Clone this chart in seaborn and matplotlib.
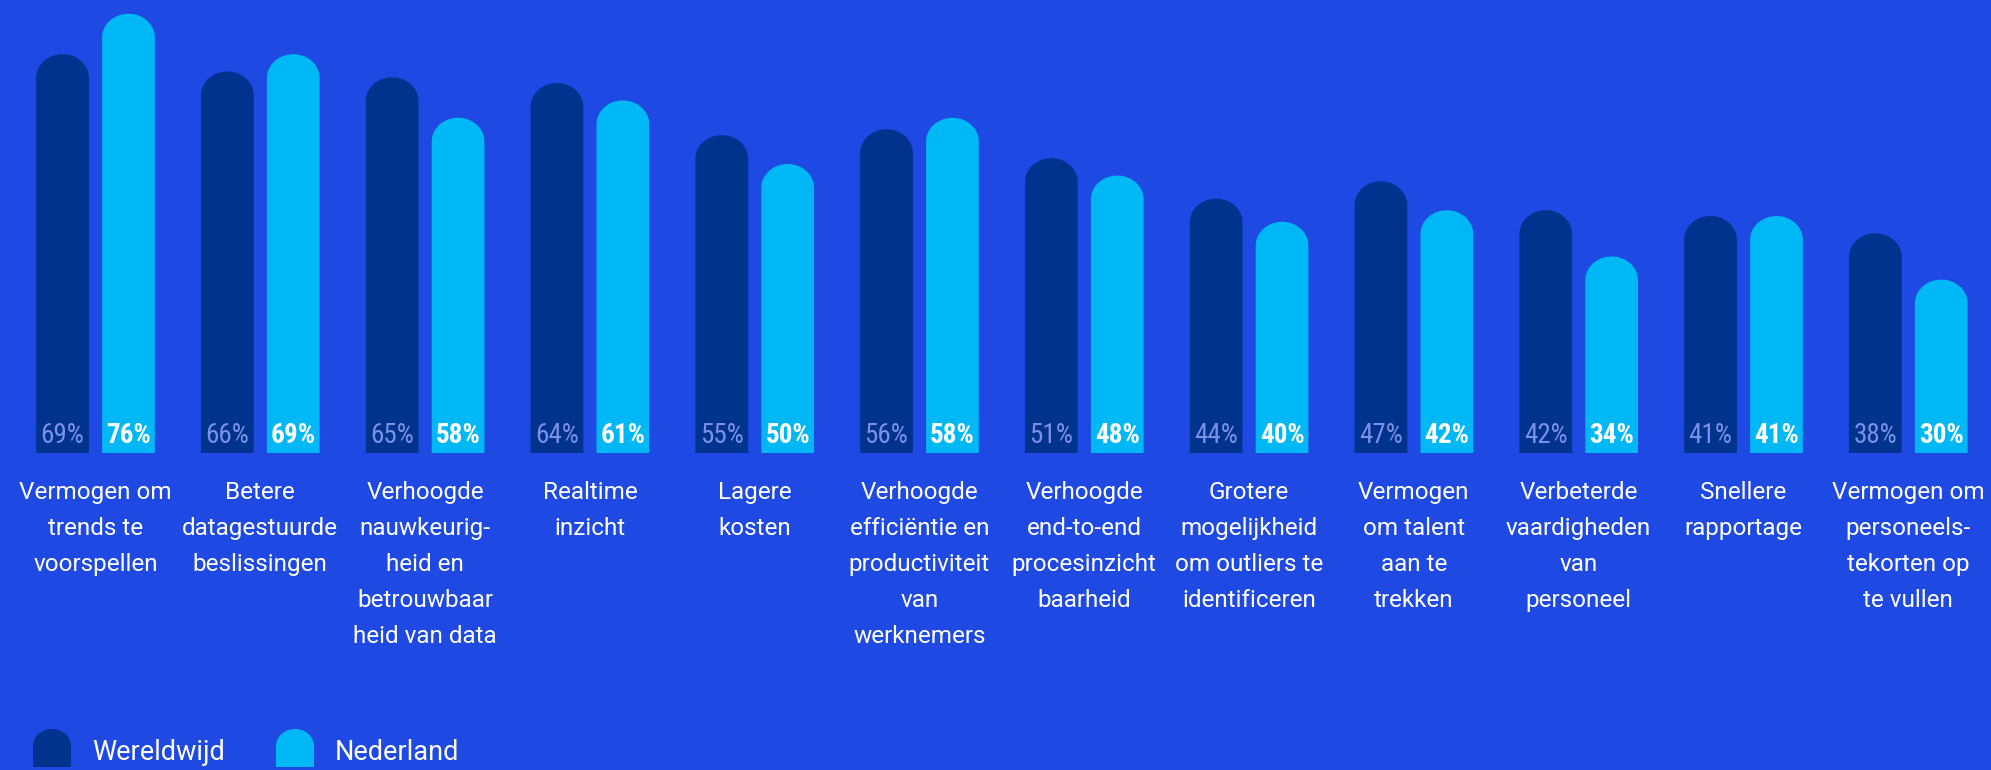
import numpy as np
import pandas as pd
import seaborn as sns
import matplotlib.pyplot as plt
from matplotlib import font_manager
from matplotlib.path import Path
from matplotlib.patches import PathPatch
from matplotlib.transforms import Affine2D

# Data
categories = [
    "Vermogen om\ntrends te\nvoorspellen",
    "Betere\ndatagestuurde\nbeslissingen",
    "Verhoogde\nnauwkeurig-\nheid en\nbetrouwbaar\nheid van data",
    "Realtime\ninzicht",
    "Lagere\nkosten",
    "Verhoogde\nefficiëntie en\nproductiviteit\nvan\nwerknemers",
    "Verhoogde\nend-to-end\nprocesinzicht\nbaarheid",
    "Grotere\nmogelijkheid\nom outliers te\nidentificeren",
    "Vermogen\nom talent\naan te\ntrekken",
    "Verbeterde\nvaardigheden\nvan\npersoneel",
    "Snellere\nrapportage",
    "Vermogen om\npersoneels-\ntekorten op\nte vullen",
]
wereldwijd = [69, 66, 65, 64, 55, 56, 51, 44, 47, 42, 41, 38]
nederland = [76, 69, 58, 61, 50, 58, 48, 40, 42, 34, 41, 30]
series = ["Wereldwijd", "Nederland"]

BG = "#1E49E2"
DARK = "#00338D"
LIGHT = "#00B8F5"
DARK_TXT = "#7B90E6"

W, H = 1991, 770

names = {f.name for f in font_manager.fontManager.ttflist}


def pick(*fams):
    for f in fams:
        if f in names:
            return f
    return "DejaVu Sans"


label_font = pick("Roboto", "Liberation Sans")
pct_font = pick("Roboto Condensed", "Liberation Sans Narrow", "DejaVu Sans")
legend_font = pick("Roboto", "Liberation Sans")

sns.set_theme(style="white")
plt.rcParams["font.family"] = [label_font, "DejaVu Sans"]

df = pd.DataFrame({
    "cat": categories * 2,
    "reeks": [series[0]] * len(categories) + [series[1]] * len(categories),
    "pct": wereldwijd + nederland,
})

fig = plt.figure(figsize=(W / 100, H / 100), dpi=100, facecolor=BG)
ax = fig.add_axes([0, 0, 1, 1])
ax.set_facecolor(BG)

sns.barplot(data=df, x="cat", y="pct", hue="reeks", palette=[DARK, LIGHT],
            width=0.8, gap=0.2, saturation=1, legend=False, errorbar=None, ax=ax)

# layout in pixels: first group centre, group step, baseline, px per %
x0, step, base, ppy = 95.5, 164.8, 453, 5.78
ax.set_xlim(-x0 / step, (W - x0) / step)
ax.set_ylim(-(H - base) / ppy, base / ppy)
ax.axis("off")


def capsule(x, w, y0, y1, ry):
    rx = w / 2
    cx = x + rx
    top = y1 - ry
    a = np.linspace(np.pi, 0, 40)
    xs = np.concatenate([[x, x], cx + rx * np.cos(a), [x + w, x + w]])
    ys = np.concatenate([[y0, top], top + ry * np.sin(a), [top, y0]])
    return Path(np.column_stack([xs, ys]), closed=False)


# replace the flat bars with rounded-top bars
bars = list(ax.patches)
for p in bars:
    x, w, h = p.get_x(), p.get_width(), p.get_height()
    fc = p.get_facecolor()
    p.remove()
    ry = (w / 2) * step / ppy * 0.9
    ax.add_patch(PathPatch(capsule(x, w, 0, h, ry), facecolor=fc, edgecolor="none", lw=0))
    is_dark = np.allclose(fc[:3], plt.matplotlib.colors.to_rgb(DARK), atol=0.02)
    ax.text(x + w / 2, 1.75, f"{h:.0f}%", ha="center", va="baseline",
            fontsize=19.5, family=pct_font,
            fontweight="normal" if is_dark else "bold",
            color=DARK_TXT if is_dark else "white")

# category labels
for i, lab in enumerate(categories):
    ax.text(i, (base - 481) / ppy, lab, ha="center", va="top", ma="center",
            fontsize=17.5, family=label_font, color="white", linespacing=1.72)

# legend, drawn in pixel coordinates
tr = Affine2D().scale(1 / W, 1 / H) + fig.transFigure
for sx, tx, col, name in [(33, 92, DARK, series[0]), (276, 335, LIGHT, series[1])]:
    fig.patches.append(PathPatch(capsule(sx, 38, 3, 41, 17), facecolor=col,
                                 edgecolor="none", lw=0, transform=tr))
    fig.text(tx / W, 10 / H, name, ha="left", va="baseline", fontsize=19.5,
             family=legend_font, fontweight="normal", color="white")

fig.savefig("out.png", dpi=100, facecolor=BG)
